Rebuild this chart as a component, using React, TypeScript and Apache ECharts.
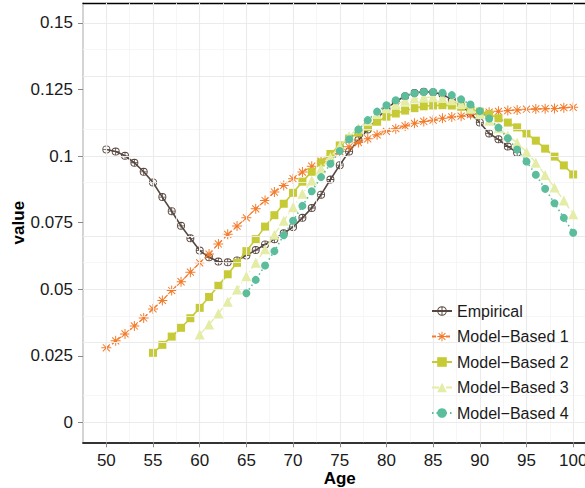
import React, { useEffect, useRef } from "react";
import * as echarts from "echarts";

const AGES = [
  50, 51, 52, 53, 54, 55, 56, 57, 58, 59, 60, 61, 62, 63, 64, 65, 66, 67, 68, 69,
  70, 71, 72, 73, 74, 75, 76, 77, 78, 79, 80, 81, 82, 83, 84, 85, 86, 87, 88, 89,
  90, 91, 92, 93, 94, 95, 96, 97, 98, 99, 100,
];

const EMPIRICAL = [
  0.1025, 0.1017, 0.1001, 0.0975, 0.0941, 0.0901, 0.0846, 0.0793, 0.0738, 0.0691,
  0.0645, 0.062, 0.0604, 0.0601, 0.0608, 0.0627, 0.0647, 0.0668, 0.0688, 0.071,
  0.0734, 0.0768, 0.0805, 0.0855, 0.0912, 0.0966, 0.1017, 0.106, 0.11, 0.114,
  0.1178, 0.1205, 0.1225, 0.1237, 0.1242, 0.124, 0.1232, 0.1212, 0.119, 0.116,
  0.1126, 0.1085, 0.1063, 0.1036, 0.1013, null, null, null, null, null, null,
];

const MODEL_1 = [
  0.028, 0.0306, 0.0332, 0.0362, 0.0392, 0.0426, 0.0458, 0.0495, 0.0528, 0.0564,
  0.0599, 0.0632, 0.067, 0.0706, 0.0737, 0.0768, 0.0802, 0.0833, 0.0865, 0.089,
  0.0915, 0.094, 0.0962, 0.0981, 0.0999, 0.1017, 0.1035, 0.1051, 0.1065, 0.108,
  0.1093, 0.1103, 0.1113, 0.1123, 0.113, 0.1135, 0.1142, 0.1147, 0.115, 0.1156,
  0.116, 0.1165, 0.1168, 0.1171, 0.1173, 0.1176, 0.1177, 0.1178, 0.1179, 0.1182, 0.1183,
];

const MODEL_2 = [
  null, null, null, null, null, 0.0261, 0.0291, 0.0322, 0.0355, 0.0391,
  0.043, 0.0471, 0.0513, 0.0556, 0.0599, 0.0643, 0.0688, 0.0735, 0.0778, 0.0821,
  0.0862, 0.0904, 0.0941, 0.0976, 0.1008, 0.104, 0.1066, 0.1088, 0.1109, 0.1129,
  0.1148, 0.116, 0.1171, 0.118, 0.1187, 0.119, 0.1191, 0.119, 0.1185, 0.1175,
  0.1167, 0.1157, 0.1142, 0.1126, 0.1108, 0.1085, 0.1058, 0.1028, 0.0998, 0.0965, 0.0931,
];

const MODEL_3 = [
  null, null, null, null, null, null, null, null, null, null,
  0.033, 0.0367, 0.0409, 0.0453, 0.0499, 0.0549, 0.0599, 0.065, 0.0705, 0.0757,
  0.0808, 0.0859, 0.0908, 0.0953, 0.0996, 0.1038, 0.1075, 0.1105, 0.1132, 0.1158,
  0.118, 0.1196, 0.1208, 0.1216, 0.122, 0.1221, 0.1218, 0.121, 0.1196, 0.1178,
  0.1157, 0.1133, 0.1105, 0.1077, 0.105, 0.1015, 0.0975, 0.0929, 0.0882, 0.0833, 0.0782,
];

const MODEL_4 = [
  null, null, null, null, null, null, null, null, null, null,
  null, null, null, null, null, 0.0485, 0.0535, 0.0589, 0.0643, 0.0703,
  0.0757, 0.0813, 0.0868, 0.0921, 0.0971, 0.1019, 0.1063, 0.11, 0.1135, 0.1167,
  0.1191, 0.121, 0.1226, 0.1236, 0.1241, 0.1241, 0.1238, 0.1229, 0.1213, 0.1194,
  0.1169, 0.1141, 0.1107, 0.1067, 0.1025, 0.098, 0.093, 0.0877, 0.0823, 0.0768, 0.0712,
];

const SERIES_NAMES = [
  "Empirical",
  "Model\u2212Based 1",
  "Model\u2212Based 2",
  "Model\u2212Based 3",
  "Model\u2212Based 4",
];

const X_TICKS = [50, 55, 60, 65, 70, 75, 80, 85, 90, 95, 100];
const X_MINOR = [52.5, 57.5, 62.5, 67.5, 72.5, 77.5, 82.5, 87.5, 92.5, 97.5];
const Y_TICKS = [0, 0.025, 0.05, 0.075, 0.1, 0.125, 0.15];
const Y_TICK_LABELS = ["0", "0.025", "0.05", "0.075", "0.1", "0.125", "0.15"];
const Y_MINOR = [0.0125, 0.0375, 0.0625, 0.0875, 0.1125, 0.1375];

const FONT = "'Liberation Sans', Arial, Helvetica, sans-serif";

const CIRCLE_CROSS =
  "path://M0,10 A10,10 0 1,1 20,10 A10,10 0 1,1 0,10 Z " +
  "M2.2,10 A7.8,7.8 0 1,0 17.8,10 A7.8,7.8 0 1,0 2.2,10 Z " +
  "M2.2,9 L17.8,9 L17.8,11 L2.2,11 Z M9,2.2 L11,2.2 L11,17.8 L9,17.8 Z";

const ASTERISK =
  "path://M1,9.1 L19,9.1 L19,10.9 L1,10.9 Z M9.1,1 L10.9,1 L10.9,19 L9.1,19 Z " +
  "M4.28,3 L17,15.72 L15.72,17 L3,4.28 Z M15.72,3 L17,4.28 L4.28,17 L3,15.72 Z";

const zip = (vals: (number | null)[]) => AGES.map((a, i) => [a, vals[i]]);

export default function App() {
  const ref = useRef<HTMLDivElement>(null);

  useEffect(() => {
    if (!ref.current) return;
    const chart = echarts.init(ref.current, null, { renderer: "svg" });

    const gridLines = [
      ...X_MINOR.map((v) => ({ xAxis: v, lineStyle: { color: "#f4f4f4", width: 0.8, type: "solid" } })),
      ...Y_MINOR.map((v) => ({ yAxis: v, lineStyle: { color: "#f4f4f4", width: 0.8, type: "solid" } })),
      ...X_TICKS.map((v) => ({ xAxis: v, lineStyle: { color: "#ebebeb", width: 1.1, type: "solid" } })),
      ...Y_TICKS.map((v) => ({ yAxis: v, lineStyle: { color: "#ebebeb", width: 1.1, type: "solid" } })),
    ];

    const labelStyle = { fontSize: 17, color: "#1a1a1a", fontFamily: FONT };
    const nameStyle = { fontSize: 17, color: "#000", fontFamily: FONT, fontWeight: "bold" };

    const option: any = {
      animation: false,
      backgroundColor: "#ffffff",
      grid: {
        left: 83,
        top: 3,
        width: 513.5,
        height: 439.3,
        containLabel: false,
        outerBoundsMode: "none",
      },
      xAxis: [
        {
          type: "value",
          min: 47.5,
          max: 102.5,
          position: "bottom",
          axisLine: { show: true, onZero: false, lineStyle: { color: "#333333", width: 1.8 } },
          axisTick: { show: true, customValues: X_TICKS, length: 5, lineStyle: { color: "#888888", width: 1 } },
          axisLabel: { show: true, customValues: X_TICKS, margin: 10, ...labelStyle },
          splitLine: { show: false },
          name: "Age",
          nameLocation: "middle",
          nameGap: 27.5,
          nameMoveOverlap: false,
          nameTextStyle: nameStyle,
        },
        {
          type: "value",
          min: 47.5,
          max: 102.5,
          position: "top",
          axisLine: { show: true, onZero: false, lineStyle: { color: "#000000", width: 1.3 } },
          axisTick: { show: false },
          axisLabel: { show: false },
          splitLine: { show: false },
        },
      ],
      yAxis: {
        type: "value",
        min: -0.0075,
        max: 0.1575,
        axisLine: { show: true, onZero: false, lineStyle: { color: "#d4d4d4", width: 2 } },
        axisTick: { show: true, customValues: Y_TICKS, length: 5, lineStyle: { color: "#888888", width: 1 } },
        axisLabel: {
          show: true,
          customValues: Y_TICKS,
          margin: 10,
          ...labelStyle,
          formatter: (v: number) => {
            const i = Y_TICKS.findIndex((t) => Math.abs(t - v) < 1e-9);
            return i >= 0 ? Y_TICK_LABELS[i] : "";
          },
        },
        splitLine: { show: false },
        name: "value",
        nameLocation: "middle",
        nameGap: 56,
        nameMoveOverlap: false,
        nameRotate: 90,
        nameTextStyle: nameStyle,
      },
      legend: {
        orient: "vertical",
        left: 426,
        top: 298,
        z: 10,
        itemWidth: 20,
        itemHeight: 12,
        itemGap: 9.5,
        textStyle: { fontSize: 16, color: "#1a1a1a", fontFamily: FONT },
        data: SERIES_NAMES,
      },
      series: [
        {
          type: "line",
          data: [],
          silent: true,
          z: 1,
          markLine: {
            silent: true,
            symbol: ["none", "none"],
            label: { show: false },
            animation: false,
            data: gridLines,
          },
        },
        {
          name: SERIES_NAMES[0],
          type: "line",
          data: zip(EMPIRICAL),
          symbol: CIRCLE_CROSS,
          symbolSize: 8,
          showAllSymbol: true,
          z: 2,
          lineStyle: { color: "#574740", width: 1.6 },
          itemStyle: { color: "#574740", borderWidth: 0 },
        },
        {
          name: SERIES_NAMES[1],
          type: "line",
          data: zip(MODEL_1),
          symbol: ASTERISK,
          symbolSize: 10,
          showAllSymbol: true,
          z: 3,
          lineStyle: { color: "#f47b2a", width: 1.3, type: [4, 3] },
          itemStyle: { color: "#f47b2a", borderWidth: 0 },
        },
        {
          name: SERIES_NAMES[2],
          type: "line",
          data: zip(MODEL_2),
          symbol: "rect",
          symbolSize: 8,
          showAllSymbol: true,
          z: 4,
          lineStyle: { color: "#c6ca35", width: 1.6 },
          itemStyle: { color: "#c6ca35", borderWidth: 0 },
        },
        {
          name: SERIES_NAMES[3],
          type: "line",
          data: zip(MODEL_3),
          symbol: "triangle",
          symbolSize: 10,
          showAllSymbol: true,
          z: 5,
          lineStyle: { color: "#e4eca6", width: 1.4, type: [7, 3, 1, 3] },
          itemStyle: { color: "#e4eca6", borderWidth: 0 },
        },
        {
          name: SERIES_NAMES[4],
          type: "line",
          data: zip(MODEL_4),
          symbol: "circle",
          symbolSize: 8,
          showAllSymbol: true,
          z: 6,
          lineStyle: { color: "#5bbd9c", width: 1.6, type: [1.5, 3] },
          itemStyle: { color: "#5bbd9c", borderWidth: 0 },
        },
      ],
    };

    chart.setOption(option);
    return () => chart.dispose();
  }, []);

  return (
    <div
      style={{
        position: "fixed",
        left: 0,
        top: 0,
        width: 585,
        height: 488,
        overflow: "hidden",
        background: "#ffffff",
      }}
    >
      <div ref={ref} style={{ width: 620, height: 488 }} />
    </div>
  );
}
